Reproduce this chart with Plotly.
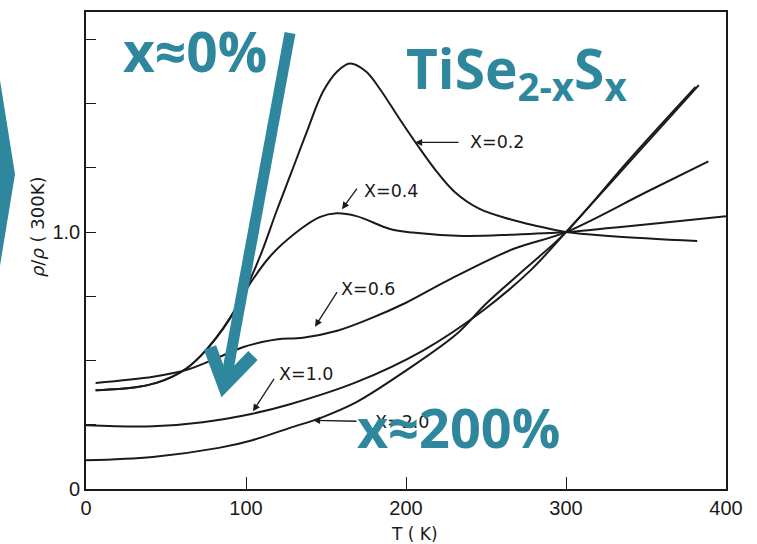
import plotly.graph_objects as go

# ---- data ----
T_02 = [6, 20, 32, 44, 54, 63, 72, 81, 90, 100, 110, 119, 128.6, 138, 148, 157, 165, 175, 184, 196, 207.5, 218, 230.6, 246, 265, 282.5, 300, 329, 382]
R_02 = [0.384, 0.389, 0.397, 0.413, 0.437, 0.47, 0.52, 0.585, 0.665, 0.78, 0.925, 1.08, 1.236, 1.39, 1.545, 1.625, 1.656, 1.625, 1.554, 1.44, 1.335, 1.245, 1.155, 1.09, 1.05, 1.023, 1.0, 0.984, 0.965]

T_04 = [6, 20, 32, 44, 54, 63, 72, 81, 90, 100, 115, 131.7, 146, 156.7, 169, 190, 204, 235.6, 267, 300, 329, 360.6, 400]
R_04 = [0.384, 0.389, 0.397, 0.413, 0.437, 0.47, 0.52, 0.585, 0.665, 0.775, 0.905, 1.0, 1.058, 1.073, 1.062, 1.012, 0.998, 0.985, 0.99, 1.0, 1.017, 1.036, 1.062]

T_06 = [6, 42, 62.5, 83, 98, 110, 120, 135.6, 157, 177.5, 200, 225.6, 267, 300, 350.6, 389]
R_06 = [0.413, 0.437, 0.463, 0.513, 0.552, 0.572, 0.583, 0.589, 0.616, 0.663, 0.725, 0.81, 0.934, 1.0, 1.157, 1.275]

T_10 = [0, 41.7, 73, 104, 127.5, 169, 210.6, 248, 277.5, 300, 340, 383]
R_10 = [0.248, 0.244, 0.26, 0.293, 0.33, 0.416, 0.539, 0.694, 0.849, 1.0, 1.275, 1.572]

T_20 = [0, 41.7, 83, 104, 127.5, 148, 169, 200, 232, 250, 275, 300, 340, 381]
R_20 = [0.112, 0.125, 0.16, 0.19, 0.238, 0.28, 0.338, 0.461, 0.605, 0.721, 0.86, 1.0, 1.285, 1.565]

X_TICKS = [0, 100, 200, 300, 400]
Y_TICKS = [0, 0.25, 0.5, 0.75, 1.0, 1.25, 1.5, 1.75]
Y_TICKTEXT = ["0", "", "", "", "1.0", "", "", ""]

TEAL = "#2F879E"
INK = "#1a1a1a"

# pixel -> paper helpers (plot area: x 86..726, y 10..489)
L, R, TOP, BOT = 86, 726, 10, 489
def PX(px):
    return (px - L) / (R - L)
def PY(py):
    return (BOT - py) / (BOT - TOP)

fig = go.Figure()
for T, Rr in [(T_02, R_02), (T_04, R_04), (T_06, R_06), (T_10, R_10), (T_20, R_20)]:
    fig.add_trace(go.Scatter(x=T, y=Rr, mode="lines",
                             line=dict(color=INK, width=2, shape="spline", smoothing=1.0),
                             showlegend=False, hoverinfo="skip"))

ann = []
# curve labels
lab_font = dict(family="DejaVu Sans", size=17.5, color=INK)
labels = [("X=0.2", 497, 141), ("X=0.4", 391, 190), ("X=0.6", 368, 288),
          ("X=1.0", 306, 374), ("X=2.0", 402, 422)]
for txt, cx, cy in labels:
    ann.append(dict(text=txt, x=PX(cx), y=PY(cy), xref="paper", yref="paper",
                    showarrow=False, xanchor="center", yanchor="middle", font=lab_font))
# label arrows (tail -> head)
arrows = [((460, 141), (415, 141)), ((358, 186), (342, 208)), ((338, 290), (315, 326)),
          ((275, 377), (253, 411)), ((358, 421), (313, 420))]
for (tx, ty), (hx, hy) in arrows:
    ann.append(dict(text="", x=PX(hx), y=PY(hy), xref="paper", yref="paper",
                    showarrow=True, ax=tx - hx, ay=ty - hy, arrowhead=2, arrowsize=1.1,
                    arrowwidth=1.3, arrowcolor=INK))

# axis titles
ann.append(dict(text="<i>ρ</i>/<i>ρ</i> ( 300K)", x=PX(37), y=PY(226), xref="paper", yref="paper",
                showarrow=False, textangle=-90, xanchor="center", yanchor="middle",
                font=dict(family="DejaVu Sans", size=18, color=INK)))
ann.append(dict(text="T ( K)", x=PX(414), y=PY(534), xref="paper", yref="paper",
                showarrow=False, xanchor="center", yanchor="middle",
                font=dict(family="DejaVu Sans", size=17, color=INK)))

# big teal texts
big = dict(family="Open Sans", size=55, color=TEAL, weight="bold")
ann.append(dict(text="x≈0%", x=PX(121), y=PY(49), xref="paper", yref="paper",
                showarrow=False, xanchor="left", yanchor="middle", font=big))
ann.append(dict(text="TiSe<sub>2-x</sub>S<sub>x</sub>", x=PX(404), y=PY(69), xref="paper", yref="paper",
                showarrow=False, xanchor="left", yanchor="middle", font=big))
ann.append(dict(text="x≈200%", x=PX(355), y=PY(427), xref="paper", yref="paper",
                showarrow=False, xanchor="left", yanchor="middle",
                font=dict(family="Open Sans", size=54, color=TEAL, weight="bold")))

shapes = []
# left chevron fragment
shapes.append(dict(type="path", xref="paper", yref="paper",
                   path=f"M {PX(-2)} {PY(66)} L {PX(15)} {PY(173)} L {PX(-2)} {PY(277)} Z",
                   fillcolor=TEAL, line=dict(width=0), layer="above"))
# big arrow shaft
shapes.append(dict(type="line", xref="paper", yref="paper",
                   x0=PX(290), y0=PY(31), x1=PX(226), y1=PY(380),
                   line=dict(color=TEAL, width=11), layer="above"))
# arrow head
shapes.append(dict(type="path", xref="paper", yref="paper",
                   path=f"M {PX(210)} {PY(347)} L {PX(224)} {PY(385)} L {PX(253)} {PY(355)}",
                   line=dict(color=TEAL, width=13), layer="above"))

fig.update_layout(
    width=757, height=544,
    margin=dict(l=L, r=757 - R, t=TOP, b=544 - BOT),
    paper_bgcolor="white", plot_bgcolor="white",
    annotations=ann, shapes=shapes,
    xaxis=dict(range=[0, 400], tickvals=X_TICKS, ticktext=[str(v) for v in X_TICKS],
               ticks="inside", ticklen=12, tickwidth=1.3, tickcolor=INK,
               showline=True, linecolor=INK, linewidth=1.6, mirror=True,
               showgrid=False, zeroline=False,
               tickfont=dict(family="Liberation Sans", size=20, color=INK)),
    yaxis=dict(range=[0, (BOT - TOP) / 258], tickvals=Y_TICKS, ticktext=Y_TICKTEXT,
               ticks="inside", ticklen=10, tickwidth=1.3, tickcolor=INK,
               showline=True, linecolor=INK, linewidth=1.6, mirror=True,
               showgrid=False, zeroline=False,
               tickfont=dict(family="Liberation Sans", size=20, color=INK)),
)

fig.write_html("out.html", config={"displayModeBar": False},
               post_script="document.body.style.margin='0';document.body.style.overflow='hidden';")
